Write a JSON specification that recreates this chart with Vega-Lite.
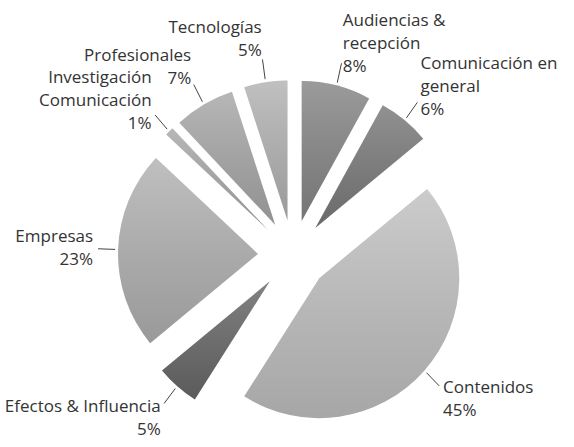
{
  "$schema": "https://vega.github.io/schema/vega-lite/v6.json",
  "width": 574,
  "height": 447,
  "padding": 0,
  "autosize": {"type": "none"},
  "background": "white",
  "config": {"view": {"stroke": null}},
  "data": {
    "values": [
      {"name": "Audiencias &\nrecepción", "value": 8},
      {"name": "Comunicación en\ngeneral", "value": 6},
      {"name": "Contenidos", "value": 45},
      {"name": "Efectos & Influencia", "value": 5},
      {"name": "Empresas", "value": 23},
      {"name": "Investigación\nComunicación", "value": 1},
      {"name": "Profesionales", "value": 7},
      {"name": "Tecnologías", "value": 5}
    ]
  },
  "transform": [
    {"window": [{"op": "sum", "field": "value", "as": "v1"}], "frame": [null, 0]},
    {"calculate": "datum.v1 - datum.value", "as": "v0"},
    {"calculate": "2*PI*(datum.v0 + datum.value/2)/100", "as": "mid"},
    {"calculate": "35*sin(datum.mid)", "as": "ox"},
    {"calculate": "35*cos(datum.mid)", "as": "oy"},
    {"calculate": "datum.name + '\\n' + datum.value + '%'", "as": "txt"},
    {"calculate": "length(split(datum.txt, '\\n'))", "as": "nl"},
    {"calculate": "200*sin(datum.mid)", "as": "lx"},
    {"calculate": "218*cos(datum.mid) + (datum.nl - 1)*11.5", "as": "ly"},
    {"calculate": "178*sin(datum.mid)", "as": "ax"},
    {"calculate": "178*cos(datum.mid)", "as": "ay"},
    {"calculate": "195*sin(datum.mid)", "as": "bx"},
    {"calculate": "198*cos(datum.mid)", "as": "by"}
  ],
  "layer": [
    {
      "mark": {"type": "arc", "radius": 140},
      "encoding": {
        "x": {"field": "ox", "type": "quantitative", "scale": {"domain": [-293, 281], "nice": false, "zero": false}, "axis": null},
        "y": {"field": "oy", "type": "quantitative", "scale": {"domain": [-192, 255], "nice": false, "zero": false}, "axis": null},
        "theta": {"field": "v0", "type": "quantitative", "stack": null, "scale": {"domain": [0, 100], "range": [0, 6.283185307179586]}},
        "theta2": {"field": "v1"},
        "color": {
          "field": "name", "type": "nominal", "legend": null,
          "scale": {
            "domain": ["Audiencias &\nrecepción", "Comunicación en\ngeneral", "Contenidos", "Efectos & Influencia", "Empresas", "Investigación\nComunicación", "Profesionales", "Tecnologías"],
            "range": ["#888888", "#7c7c7c", "#c2c2c2", "#6a6a6a", "#b3b3b3", "#aaaaaa", "#a9a9a9", "#b4b4b4"]
          }
        }
      }
    },
    {
      "mark": {
        "type": "arc", "radius": 140,
        "color": {"gradient": "linear", "x1": 0, "y1": 0, "x2": 0, "y2": 1,
          "stops": [{"offset": 0, "color": "rgba(255,255,255,0.16)"}, {"offset": 1, "color": "rgba(0,0,0,0.14)"}]}
      },
      "encoding": {
        "x": {"field": "ox", "type": "quantitative", "scale": {"domain": [-293, 281], "nice": false, "zero": false}, "axis": null},
        "y": {"field": "oy", "type": "quantitative", "scale": {"domain": [-192, 255], "nice": false, "zero": false}, "axis": null},
        "theta": {"field": "v0", "type": "quantitative", "stack": null, "scale": {"domain": [0, 100], "range": [0, 6.283185307179586]}},
        "theta2": {"field": "v1"}
      }
    },
    {
      "mark": {"type": "rule", "color": "#444444", "strokeWidth": 1},
      "encoding": {
        "x": {"field": "ax", "type": "quantitative", "scale": {"domain": [-293, 281], "nice": false, "zero": false}, "axis": null},
        "y": {"field": "ay", "type": "quantitative", "scale": {"domain": [-192, 255], "nice": false, "zero": false}, "axis": null},
        "x2": {"field": "bx"},
        "y2": {"field": "by"}
      }
    },
    {
      "transform": [{"filter": "sin(datum.mid) > 0"}],
      "mark": {"type": "text", "align": "left", "baseline": "middle", "lineBreak": "\n", "font": "Open Sans", "fontSize": 17, "lineHeight": 23, "color": "#333333"},
      "encoding": {
        "x": {"field": "lx", "type": "quantitative", "scale": {"domain": [-293, 281], "nice": false, "zero": false}, "axis": null},
        "y": {"field": "ly", "type": "quantitative", "scale": {"domain": [-192, 255], "nice": false, "zero": false}, "axis": null},
        "text": {"field": "txt", "type": "nominal"}
      }
    },
    {
      "transform": [{"filter": "sin(datum.mid) <= 0"}],
      "mark": {"type": "text", "align": "right", "baseline": "middle", "lineBreak": "\n", "font": "Open Sans", "fontSize": 17, "lineHeight": 23, "color": "#333333"},
      "encoding": {
        "x": {"field": "lx", "type": "quantitative", "scale": {"domain": [-293, 281], "nice": false, "zero": false}, "axis": null},
        "y": {"field": "ly", "type": "quantitative", "scale": {"domain": [-192, 255], "nice": false, "zero": false}, "axis": null},
        "text": {"field": "txt", "type": "nominal"}
      }
    }
  ]
}
